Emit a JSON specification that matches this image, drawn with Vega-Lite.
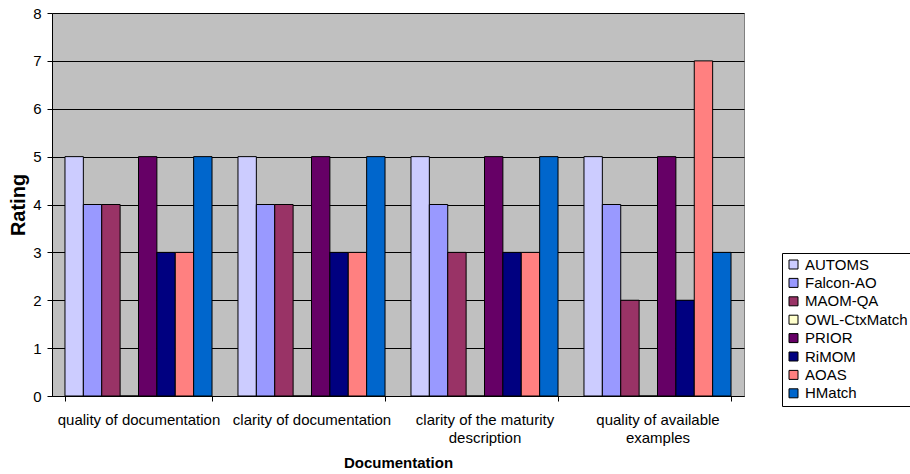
{
  "$schema": "https://vega.github.io/schema/vega-lite/v6.json",
  "width": 692,
  "height": 383,
  "autosize": "none",
  "padding": {"left": 52, "top": 13, "right": 166, "bottom": 78},
  "background": "white",
  "config": {
    "font": "Liberation Sans",
    "view": {"fill": "#C0C0C0", "stroke": "#808080", "strokeWidth": 1}
  },
  "data": {
    "values": [
      {"category": "quality of documentation", "tool": "AUTOMS", "rating": 5},
      {"category": "quality of documentation", "tool": "Falcon-AO", "rating": 4},
      {"category": "quality of documentation", "tool": "MAOM-QA", "rating": 4},
      {"category": "quality of documentation", "tool": "OWL-CtxMatch", "rating": 0},
      {"category": "quality of documentation", "tool": "PRIOR", "rating": 5},
      {"category": "quality of documentation", "tool": "RiMOM", "rating": 3},
      {"category": "quality of documentation", "tool": "AOAS", "rating": 3},
      {"category": "quality of documentation", "tool": "HMatch", "rating": 5},
      {"category": "clarity of documentation", "tool": "AUTOMS", "rating": 5},
      {"category": "clarity of documentation", "tool": "Falcon-AO", "rating": 4},
      {"category": "clarity of documentation", "tool": "MAOM-QA", "rating": 4},
      {"category": "clarity of documentation", "tool": "OWL-CtxMatch", "rating": 0},
      {"category": "clarity of documentation", "tool": "PRIOR", "rating": 5},
      {"category": "clarity of documentation", "tool": "RiMOM", "rating": 3},
      {"category": "clarity of documentation", "tool": "AOAS", "rating": 3},
      {"category": "clarity of documentation", "tool": "HMatch", "rating": 5},
      {"category": "clarity of the maturity description", "tool": "AUTOMS", "rating": 5},
      {"category": "clarity of the maturity description", "tool": "Falcon-AO", "rating": 4},
      {"category": "clarity of the maturity description", "tool": "MAOM-QA", "rating": 3},
      {"category": "clarity of the maturity description", "tool": "OWL-CtxMatch", "rating": 0},
      {"category": "clarity of the maturity description", "tool": "PRIOR", "rating": 5},
      {"category": "clarity of the maturity description", "tool": "RiMOM", "rating": 3},
      {"category": "clarity of the maturity description", "tool": "AOAS", "rating": 3},
      {"category": "clarity of the maturity description", "tool": "HMatch", "rating": 5},
      {"category": "quality of available examples", "tool": "AUTOMS", "rating": 5},
      {"category": "quality of available examples", "tool": "Falcon-AO", "rating": 4},
      {"category": "quality of available examples", "tool": "MAOM-QA", "rating": 2},
      {"category": "quality of available examples", "tool": "OWL-CtxMatch", "rating": 0},
      {"category": "quality of available examples", "tool": "PRIOR", "rating": 5},
      {"category": "quality of available examples", "tool": "RiMOM", "rating": 2},
      {"category": "quality of available examples", "tool": "AOAS", "rating": 7},
      {"category": "quality of available examples", "tool": "HMatch", "rating": 3}
    ]
  },
  "mark": {"type": "bar", "stroke": "black", "strokeWidth": 1},
  "encoding": {
    "x": {
      "field": "category",
      "type": "nominal",
      "sort": null,
      "scale": {"paddingInner": 0.15, "paddingOuter": 0.075},
      "axis": {
        "title": "Documentation",
        "titleFont": "Liberation Sans",
        "titleFontSize": 15,
        "titleFontWeight": "bold",
        "titleColor": "black",
        "titlePadding": 10,
        "labelAngle": 0,
        "labelFontSize": 15,
        "labelColor": "black",
        "labelPadding": 11,
        "labelLineHeight": 18,
        "labelLimit": 300,
        "labelExpr": "datum.value == 'clarity of the maturity description' ? ['clarity of the maturity', 'description'] : datum.value == 'quality of available examples' ? ['quality of available', 'examples'] : datum.value",
        "tickBand": "extent",
        "tickSize": 5,
        "tickColor": "black",
        "domainColor": "black",
        "grid": false
      }
    },
    "xOffset": {
      "field": "tool",
      "type": "nominal",
      "sort": ["AUTOMS", "Falcon-AO", "MAOM-QA", "OWL-CtxMatch", "PRIOR", "RiMOM", "AOAS", "HMatch"],
      "scale": {"paddingInner": 0, "paddingOuter": 0}
    },
    "y": {
      "field": "rating",
      "type": "quantitative",
      "scale": {"domain": [0, 8], "nice": false},
      "axis": {
        "title": "Rating",
        "titleFontSize": 20,
        "titleFontWeight": "bold",
        "titleColor": "black",
        "titlePadding": 4,
        "values": [0, 1, 2, 3, 4, 5, 6, 7, 8],
        "labelFontSize": 15,
        "labelColor": "black",
        "labelPadding": 6,
        "tickSize": 5,
        "tickColor": "black",
        "domainColor": "black",
        "grid": true,
        "gridColor": "black",
        "gridOpacity": 1,
        "gridWidth": 1
      }
    },
    "color": {
      "field": "tool",
      "type": "nominal",
      "scale": {
        "domain": ["AUTOMS", "Falcon-AO", "MAOM-QA", "OWL-CtxMatch", "PRIOR", "RiMOM", "AOAS", "HMatch"],
        "range": ["#CCCCFF", "#9999FF", "#993366", "#FFFFCC", "#660066", "#000080", "#FF8080", "#0066CC"]
      },
      "legend": {
        "title": null,
        "orient": "none",
        "legendX": 730,
        "legendY": 240,
        "labelFontSize": 15,
        "labelColor": "black",
        "labelOffset": 4,
        "symbolType": "square",
        "symbolSize": 81,
        "symbolStrokeColor": "black",
        "symbolStrokeWidth": 1,
        "symbolOpacity": 1,
        "rowPadding": 2.4,
        "strokeColor": "black",
        "fillColor": "white",
        "padding": 4
      }
    }
  }
}
